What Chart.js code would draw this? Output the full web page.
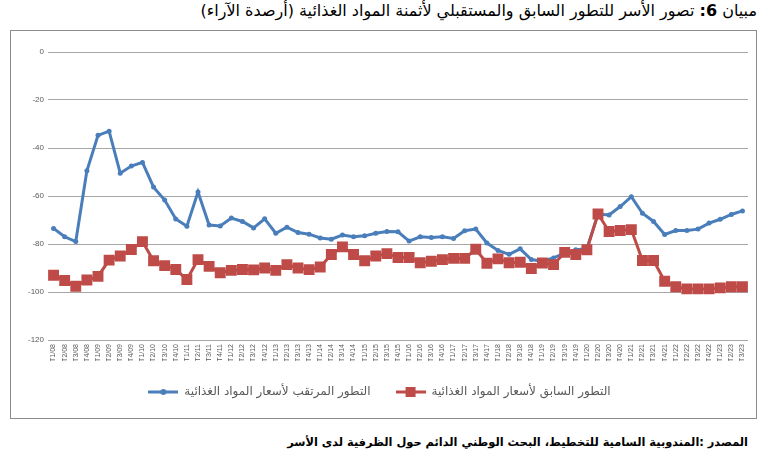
<!DOCTYPE html>
<html>
<head>
<meta charset="utf-8">
<script src="https://cdn.jsdelivr.net/npm/chart.js@4.4.1/dist/chart.umd.min.js"></script>
<style>
  html, body { margin: 0; padding: 0; background: #ffffff; width: 768px; height: 472px; overflow: hidden; }
  #title { position: absolute; right: 11px; top: 1px; font-family: "DejaVu Sans", "Liberation Sans", sans-serif; font-size: 16px; color: #000; direction: rtl; white-space: nowrap; }
  #frame { position: absolute; left: 10px; top: 30px; width: 745px; height: 387px; border: 1px solid #8c8c8c; pointer-events: none; }
  #wrap { position: absolute; left: 11px; top: 31px; width: 745px; height: 392px; }
  #source { position: absolute; right: 20px; top: 435px; font-family: "DejaVu Sans", "Liberation Sans", sans-serif; font-size: 11.4px; font-weight: bold; color: #000; direction: rtl; white-space: nowrap; }
</style>
</head>
<body>
<div id="title">مبيان <b>6:</b> تصور الأسر للتطور السابق والمستقبلي لأثمنة المواد الغذائية (أرصدة الآراء)</div>
<div id="wrap"><canvas id="c" width="745" height="392"></canvas></div>
<div id="frame"></div>
<div id="source">المصدر :المندوبية السامية للتخطيط، البحث الوطني الدائم حول الظرفية لدى الأسر</div>
<script>
const categories = [
  "T1/08","T2/08","T3/08","T4/08","T1/09","T2/09","T3/09","T4/09",
  "T1/10","T2/10","T3/10","T4/10","T1/11","T2/11","T3/11","T4/11",
  "T1/12","T2/12","T3/12","T4/12","T1/13","T2/13","T3/13","T4/13",
  "T1/14","T2/14","T3/14","T4/14","T1/15","T2/15","T3/15","T4/15",
  "T1/16","T2/16","T3/16","T4/16","T1/17","T2/17","T3/17","T4/17",
  "T1/18","T2/18","T3/18","T4/18","T1/19","T2/19","T3/19","T4/19",
  "T1/20","T2/20","T3/20","T4/20","T1/21","T2/21","T3/21","T4/21",
  "T1/22","T2/22","T3/22","T4/22","T1/23","T2/23","T3/23"
];

const seriesNames = [
  "التطور المرتقب لأسعار المواد الغذائية",
  "التطور السابق لأسعار المواد الغذائية"
];

const expectedPrices = [
  -73.5, -77, -79, -49.5, -34.7, -33, -50.5, -47.5,
  -46, -56.3, -61.7, -69.6, -72.6, -58.3, -72.1, -72.5,
  -69.2, -70.6, -73.3, -69.5, -75.5, -73, -75.2, -75.9,
  -77.5, -78, -76.3, -77, -76.6, -75.5, -74.8, -74.9,
  -78.8, -77, -77.3, -77, -77.7, -74.5, -73.8, -79.6,
  -82.7, -84.3, -82, -86.5, -87.2, -85.8, -83.8, -82.4,
  -82, -67.5, -67.9, -64.4, -60.3, -67.2, -70.6, -76,
  -74.4, -74.4, -73.8, -71.3, -69.7, -67.7, -66.2
];

const pastPrices = [
  -93, -95.2, -97.6, -95, -93.5, -86.7, -85, -82.3,
  -79, -87, -89, -90.6, -94.8, -86.5, -89.3, -92,
  -91, -90.6, -90.8, -90, -91, -88.6, -90, -90.7,
  -89.6, -84.4, -81.2, -84.4, -87, -85, -84, -85.6,
  -85.6, -87.8, -87.2, -86.5, -86, -86, -82.2, -88,
  -86.2, -87.8, -87.6, -90.2, -87.9, -88.6, -83.5, -84.4,
  -82.4, -67.5, -74.8, -74.4, -74, -86.9, -86.9, -95.5,
  -97.8, -98.7, -98.7, -98.7, -98.3, -97.8, -97.8
];

const yTicks = [0, -20, -40, -60, -80, -100, -120];

const BLUE = "#4A7EBB";
const RED = "#BE4B48";

function legendMarker(color, square) {
  const cv = document.createElement("canvas");
  cv.width = 30; cv.height = 12;
  const g = cv.getContext("2d");
  g.strokeStyle = color; g.lineWidth = 3;
  g.beginPath(); g.moveTo(0, 6); g.lineTo(30, 6); g.stroke();
  g.fillStyle = color;
  if (square) { g.fillRect(10, 1, 10, 10); }
  else { g.beginPath(); g.arc(15, 6, 3, 0, Math.PI * 2); g.fill(); }
  return cv;
}
const markers = [legendMarker(BLUE, false), legendMarker(RED, true)];

new Chart(document.getElementById("c"), {
  type: "line",
  data: {
    labels: categories,
    datasets: [
      {
        label: seriesNames[0],
        data: expectedPrices,
        borderColor: BLUE,
        backgroundColor: BLUE,
        borderWidth: 3,
        pointRadius: 2.5,
        pointBackgroundColor: BLUE,
        pointBorderWidth: 0,
        tension: 0,
        order: 1
      },
      {
        label: seriesNames[1],
        data: pastPrices,
        borderColor: RED,
        backgroundColor: RED,
        borderWidth: 3,
        pointStyle: "rect",
        pointRadius: 7.7,
        pointBackgroundColor: RED,
        pointBorderWidth: 0,
        tension: 0,
        order: 0
      }
    ]
  },
  options: {
    responsive: false,
    animation: false,
    devicePixelRatio: 1,
    layout: { padding: { left: 0, right: 8, top: 21, bottom: 15 } },
    plugins: {
      title: { display: false },
      tooltip: { enabled: false },
      legend: {
        position: "bottom",
        labels: {
          usePointStyle: true,
          pointStyleWidth: 30,
          padding: 25,
          color: "#595959",
          font: { family: "DejaVu Sans, Liberation Sans, sans-serif", size: 12 },
          sort: (a, b) => a.datasetIndex - b.datasetIndex,
          generateLabels: (chart) => {
            const items = Chart.defaults.plugins.legend.labels.generateLabels(chart);
            items.forEach(it => { it.pointStyle = markers[it.datasetIndex]; });
            return items;
          }
        }
      }
    },
    scales: {
      x: {
        type: "category",
        offset: true,
        grid: { display: false, drawTicks: false },
        border: { display: false },
        afterFit: (s) => { s.height = 21; },
        ticks: {
          autoSkip: false,
          minRotation: 90,
          maxRotation: 90,
          padding: 4,
          color: "#595959",
          font: { family: "Liberation Sans, sans-serif", size: 7 }
        }
      },
      y: {
        min: -120,
        max: 0,
        afterFit: (s) => { s.width = 37; },
        afterBuildTicks: (s) => { s.ticks = yTicks.map(v => ({ value: v })); },
        grid: { color: "#a6a6a6", lineWidth: 1, drawTicks: false },
        border: { display: false },
        ticks: {
          padding: 4,
          color: "#595959",
          font: { family: "Liberation Sans, sans-serif", size: 8 }
        }
      }
    }
  }
});
</script>
</body>
</html>
